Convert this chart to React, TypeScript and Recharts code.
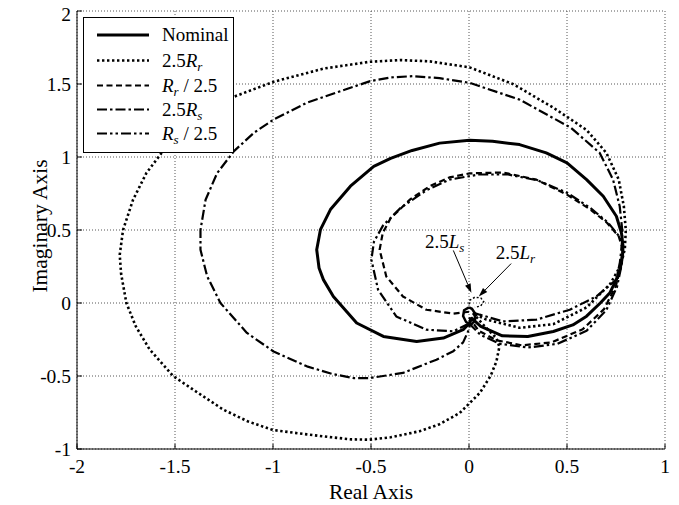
import React from 'react';
import { LineChart, Line, XAxis, YAxis, CartesianGrid, Legend, ReferenceLine, ReferenceDot } from 'recharts';

const FONT = '"Liberation Serif","Times New Roman",Times,serif';

const xTicks = [-2, -1.5, -1, -0.5, 0, 0.5, 1];
const yTicks = [-1, -0.5, 0, 0.5, 1, 1.5, 2];

const nominal = [
  [0.01, -0.1], [0.06, -0.16], [0.17, -0.225], [0.3, -0.23], [0.43, -0.195], [0.53, -0.15], [0.6, -0.09],
  [0.67, 0.0], [0.718, 0.068], [0.755, 0.17], [0.772, 0.24], [0.783, 0.32], [0.786, 0.388], [0.778, 0.479],
  [0.752, 0.594], [0.685, 0.731], [0.6, 0.845], [0.5, 0.96], [0.394, 1.028], [0.258, 1.085], [0.12, 1.108],
  [0.003, 1.114], [-0.15, 1.095], [-0.29, 1.045], [-0.4, 0.99], [-0.486, 0.936], [-0.605, 0.8], [-0.707, 0.64],
  [-0.758, 0.502], [-0.777, 0.365], [-0.765, 0.24], [-0.743, 0.16], [-0.692, 0.045], [-0.573, -0.137],
  [-0.437, -0.229], [-0.267, -0.263], [-0.131, -0.24], [-0.03, -0.183], [0.003, -0.137], [0.01, -0.1],
];

const rr25 = [
  [0.02, -0.07], [0.08, -0.16], [0.14, -0.24], [0.155, -0.3], [0.14, -0.4], [0.11, -0.5], [0.055, -0.616],
  [-0.047, -0.753], [-0.15, -0.83], [-0.252, -0.878], [-0.4, -0.92], [-0.507, -0.936], [-0.6, -0.934],
  [-0.7, -0.92], [-0.827, -0.9], [-1.0, -0.87], [-1.13, -0.81], [-1.254, -0.73], [-1.4, -0.6], [-1.51, -0.5],
  [-1.629, -0.319], [-1.7, -0.16], [-1.748, 0.0], [-1.775, 0.2], [-1.782, 0.33], [-1.765, 0.5], [-1.714, 0.707],
  [-1.646, 0.89], [-1.569, 1.027], [-1.45, 1.18], [-1.33, 1.31], [-1.199, 1.413], [-0.995, 1.516],
  [-0.74, 1.606], [-0.507, 1.652], [-0.35, 1.664], [-0.2, 1.655], [0.003, 1.614], [0.224, 1.5], [0.428, 1.34],
  [0.6, 1.185], [0.701, 1.028], [0.764, 0.845], [0.79, 0.662], [0.8, 0.5], [0.795, 0.37], [0.775, 0.26],
  [0.72, 0.13], [0.6, -0.03], [0.43, -0.145], [0.259, -0.17], [0.089, -0.114], [0.02, -0.07],
];

const rrDiv = [
  [0.0, -0.06], [-0.08, -0.073], [-0.218, -0.046], [-0.337, 0.045], [-0.422, 0.182], [-0.456, 0.365],
  [-0.44, 0.48], [-0.4, 0.58], [-0.3, 0.71], [-0.2, 0.8], [-0.1, 0.86], [0.003, 0.888], [0.173, 0.894],
  [0.344, 0.845], [0.5, 0.742], [0.62, 0.64], [0.705, 0.548], [0.764, 0.456], [0.78, 0.388], [0.778, 0.27],
  [0.75, 0.12], [0.69, -0.04], [0.58, -0.18], [0.42, -0.27], [0.27, -0.29], [0.14, -0.255], [0.05, -0.19],
  [0.0, -0.1],
];

const rs25 = [
  [0.01, -0.1], [0.0, -0.18], [-0.03, -0.27], [-0.08, -0.33], [-0.166, -0.388], [-0.337, -0.479],
  [-0.507, -0.514], [-0.59, -0.514], [-0.7, -0.485], [-0.827, -0.434], [-0.997, -0.332], [-1.133, -0.205],
  [-1.268, 0.0], [-1.336, 0.183], [-1.37, 0.365], [-1.37, 0.5], [-1.344, 0.707], [-1.285, 0.89],
  [-1.199, 1.04], [-1.097, 1.166], [-0.995, 1.258], [-0.827, 1.372], [-0.656, 1.451], [-0.503, 1.52],
  [-0.4, 1.545], [-0.286, 1.554], [-0.15, 1.54], [0.003, 1.508], [0.258, 1.393], [0.52, 1.2], [0.667, 1.028],
  [0.735, 0.845], [0.769, 0.662], [0.782, 0.5], [0.78, 0.4], [0.77, 0.28], [0.752, 0.16], [0.65, 0.045],
  [0.514, -0.046], [0.344, -0.114], [0.173, -0.126], [0.055, -0.08], [0.01, -0.06],
];

const rsDiv = [
  [0.0, -0.14], [-0.08, -0.194], [-0.218, -0.183], [-0.371, -0.092], [-0.464, 0.091], [-0.498, 0.297],
  [-0.485, 0.42], [-0.439, 0.53], [-0.35, 0.65], [-0.22, 0.77], [-0.1, 0.845], [0.05, 0.88], [0.2, 0.88],
  [0.35, 0.84], [0.5, 0.755], [0.62, 0.65], [0.71, 0.55], [0.77, 0.45], [0.785, 0.38], [0.78, 0.27],
  [0.755, 0.11], [0.7, -0.05], [0.6, -0.19], [0.45, -0.28], [0.3, -0.305], [0.16, -0.28], [0.06, -0.22],
  [0.0, -0.14],
];

const ls25 = [
  [0.0, -0.03], [-0.025, -0.05], [-0.03, -0.09], [-0.015, -0.13], [0.01, -0.15], [0.03, -0.12],
  [0.03, -0.07], [0.015, -0.04], [0.0, -0.03],
];

const lr25 = [
  [0.0, -0.01], [0.005, 0.02], [0.03, 0.04], [0.06, 0.035], [0.075, 0.01], [0.06, -0.02], [0.03, -0.03],
];

const legendNames = ['Nominal', '2.5Rr', 'Rr / 2.5', '2.5Rs', 'Rs / 2.5'];

const annotationLabels = [
  { text: '2.5', sym: 'L', sub: 's', x: -0.225, y: 0.38, ax: -0.08, ay: 0.36, tx: 0.012, ty: 0.07 },
  { text: '2.5', sym: 'L', sub: 'r', x: 0.136, y: 0.3, ax: 0.215, ay: 0.27, tx: 0.05, ty: 0.045 },
];

const toPts = (a: number[][]) => a.map(([x, y]) => ({ x, y }));

const styles = [
  { width: 3, dash: undefined as string | undefined },
  { width: 2.6, dash: '2.4 2.6' },
  { width: 2.2, dash: '6 3.5' },
  { width: 2.2, dash: '10 3 2.5 3' },
  { width: 2.2, dash: '10 3 2.5 3 2.5 3' },
];

const seriesData = [nominal, rr25, rrDiv, rs25, rsDiv];

const BottomTick = (p: any) => {
  const axisY = p.y - 8;
  return (
    <g>
      <line x1={p.x} x2={p.x} y1={axisY} y2={axisY - 5} stroke="#000" />
      <text x={p.x} y={axisY + 24} textAnchor="middle" fontFamily={FONT} fontSize={19.5} fill="#000">
        {String(p.payload.value)}
      </text>
    </g>
  );
};

const LeftTick = (p: any) => {
  const axisX = p.x + 5;
  const shift = p.payload.value === 2 ? 3.5 : 0;
  return (
    <g>
      <line x1={axisX} x2={axisX + 5} y1={p.y} y2={p.y} stroke="#000" />
      <text x={axisX - 6} y={p.y + 6.5 + shift} textAnchor="end" fontFamily={FONT} fontSize={19.5} fill="#000">
        {String(p.payload.value)}
      </text>
    </g>
  );
};

const TopTick = (p: any) => <line x1={p.x} x2={p.x} y1={p.y} y2={p.y + 5} stroke="#000" />;
const RightTick = (p: any) => <line x1={p.x} x2={p.x - 5} y1={p.y} y2={p.y} stroke="#000" />;

const XLabel = (p: any) => {
  const vb = p.viewBox || { x: 69, y: 441, width: 588, height: 56 };
  return (
    <text x={vb.x + vb.width / 2} y={vb.y + 50} textAnchor="middle" fontFamily={FONT} fontSize={21.5} fill="#000">
      Real Axis
    </text>
  );
};

const YLabel = (p: any) => {
  const vb = p.viewBox || { x: 14, y: 3, width: 55, height: 438 };
  const cx = 39;
  const cy = vb.y + vb.height / 2 - 4;
  return (
    <text x={cx} y={cy} transform={`rotate(-90 ${cx} ${cy})`} textAnchor="middle" fontFamily={FONT} fontSize={21.5} fill="#000">
      Imaginary Axis
    </text>
  );
};

const LegendLabel = ({ name, y }: { name: string; y: number }) => {
  const common = { x: 79, y, fontFamily: FONT, fontSize: 19, fill: '#000' } as any;
  if (name === 'Nominal') return <text {...common}>Nominal</text>;
  const sub = name.includes('Rr') ? 'r' : 's';
  if (name.startsWith('2.5')) {
    return (
      <text {...common}>
        2.5<tspan fontStyle="italic">R</tspan>
        <tspan fontStyle="italic" fontSize={13} dy={4}>{sub}</tspan>
      </text>
    );
  }
  return (
    <text {...common}>
      <tspan fontStyle="italic">R</tspan>
      <tspan fontStyle="italic" fontSize={13} dy={4}>{sub}</tspan>
      <tspan dy={-4}> / 2.5</tspan>
    </text>
  );
};

const LegendBox = () => {
  const rows = [18, 43.5, 68.5, 92.5, 116.5];
  return (
    <svg width={152} height={137} style={{ display: 'block' }}>
      <rect x={0.5} y={0.5} width={150} height={135} fill="#fff" stroke="#000" strokeWidth={1} />
      {legendNames.map((n, i) => (
        <g key={n}>
          <line x1={14} x2={66} y1={rows[i]} y2={rows[i]} stroke="#000" strokeWidth={styles[i].width} strokeDasharray={styles[i].dash} />
          <LegendLabel name={n} y={rows[i] + 6} />
        </g>
      ))}
    </svg>
  );
};

const ArrowShape = (p: any) => {
  const { x1, y1, x2, y2 } = p;
  const dx = x2 - x1;
  const dy = y2 - y1;
  const len = Math.sqrt(dx * dx + dy * dy) || 1;
  const ux = dx / len;
  const uy = dy / len;
  const hl = 9;
  const hw = 3;
  const bx = x2 - ux * hl;
  const by = y2 - uy * hl;
  return (
    <g>
      <line x1={x1} y1={y1} x2={bx} y2={by} stroke="#000" strokeWidth={1} />
      <polygon points={`${x2},${y2} ${bx - uy * hw},${by + ux * hw} ${bx + uy * hw},${by - ux * hw}`} fill="#000" />
    </g>
  );
};

const makeTextShape = (a: typeof annotationLabels[number]) => (p: any) => (
  <text x={p.cx} y={p.cy} fontFamily={FONT} fontSize={19} fill="#000">
    {a.text}
    <tspan fontStyle="italic">{a.sym}</tspan>
    <tspan fontStyle="italic" fontSize={13} dy={4}>{a.sub}</tspan>
  </text>
);

export default function App() {
  return (
    <div style={{ width: 663, height: 497 }}>
      <style>{'.recharts-surface{overflow:visible}'}</style>
      <LineChart width={663} height={497} margin={{ top: 3, right: 6, left: 14, bottom: 0 }}>
        <CartesianGrid stroke="#444" strokeDasharray="1 2" strokeWidth={0.9} />
        <XAxis
          dataKey="x"
          type="number"
          domain={[-2, 1]}
          ticks={xTicks}
          allowDataOverflow
          height={56}
          tickSize={0}
          tickMargin={8}
          tickLine={false}
          axisLine={{ stroke: '#000' }}
          tick={<BottomTick />}
          label={<XLabel />}
          interval={0}
        />
        <XAxis
          xAxisId="top"
          orientation="top"
          dataKey="x"
          type="number"
          domain={[-2, 1]}
          ticks={xTicks}
          allowDataOverflow
          height={0}
          tickSize={0}
          tickMargin={0}
          tickLine={false}
          axisLine={{ stroke: '#000' }}
          tick={<TopTick />}
          interval={0}
        />
        <YAxis
          type="number"
          domain={[-1, 2]}
          ticks={yTicks}
          allowDataOverflow
          width={55}
          tickSize={0}
          tickMargin={5}
          tickLine={false}
          axisLine={{ stroke: '#000' }}
          tick={<LeftTick />}
          label={<YLabel />}
          interval={0}
        />
        <YAxis
          yAxisId="right"
          orientation="right"
          type="number"
          domain={[-1, 2]}
          ticks={yTicks}
          allowDataOverflow
          width={0}
          tickSize={0}
          tickMargin={0}
          tickLine={false}
          axisLine={{ stroke: '#000' }}
          tick={<RightTick />}
          interval={0}
        />
        {seriesData.map((d, i) => (
          <Line
            key={legendNames[i]}
            data={toPts(d)}
            dataKey="y"
            type="linear"
            stroke="#000"
            strokeWidth={styles[i].width}
            strokeDasharray={styles[i].dash}
            dot={false}
            activeDot={false}
            isAnimationActive={false}
            strokeLinejoin="round"
          />
        ))}
        <Line data={toPts(ls25)} dataKey="y" type="linear" stroke="#000" strokeWidth={2.5} dot={false} activeDot={false} isAnimationActive={false} />
        <Line data={toPts(lr25)} dataKey="y" type="linear" stroke="#000" strokeWidth={1.5} strokeDasharray="2 2" dot={false} activeDot={false} isAnimationActive={false} />
        {annotationLabels.map((a, i) => (
          <ReferenceLine key={'arr' + i} segment={[{ x: a.ax, y: a.ay }, { x: a.tx, y: a.ty }]} shape={ArrowShape} />
        ))}
        {annotationLabels.map((a, i) => (
          <ReferenceDot key={'lbl' + i} x={a.x} y={a.y} r={0} shape={makeTextShape(a)} />
        ))}
        <Legend
          layout="vertical"
          align="center"
          verticalAlign="middle"
          wrapperStyle={{ left: 75, top: 9, width: 152, height: 137 }}
          content={() => <LegendBox />}
        />
      </LineChart>
    </div>
  );
}
